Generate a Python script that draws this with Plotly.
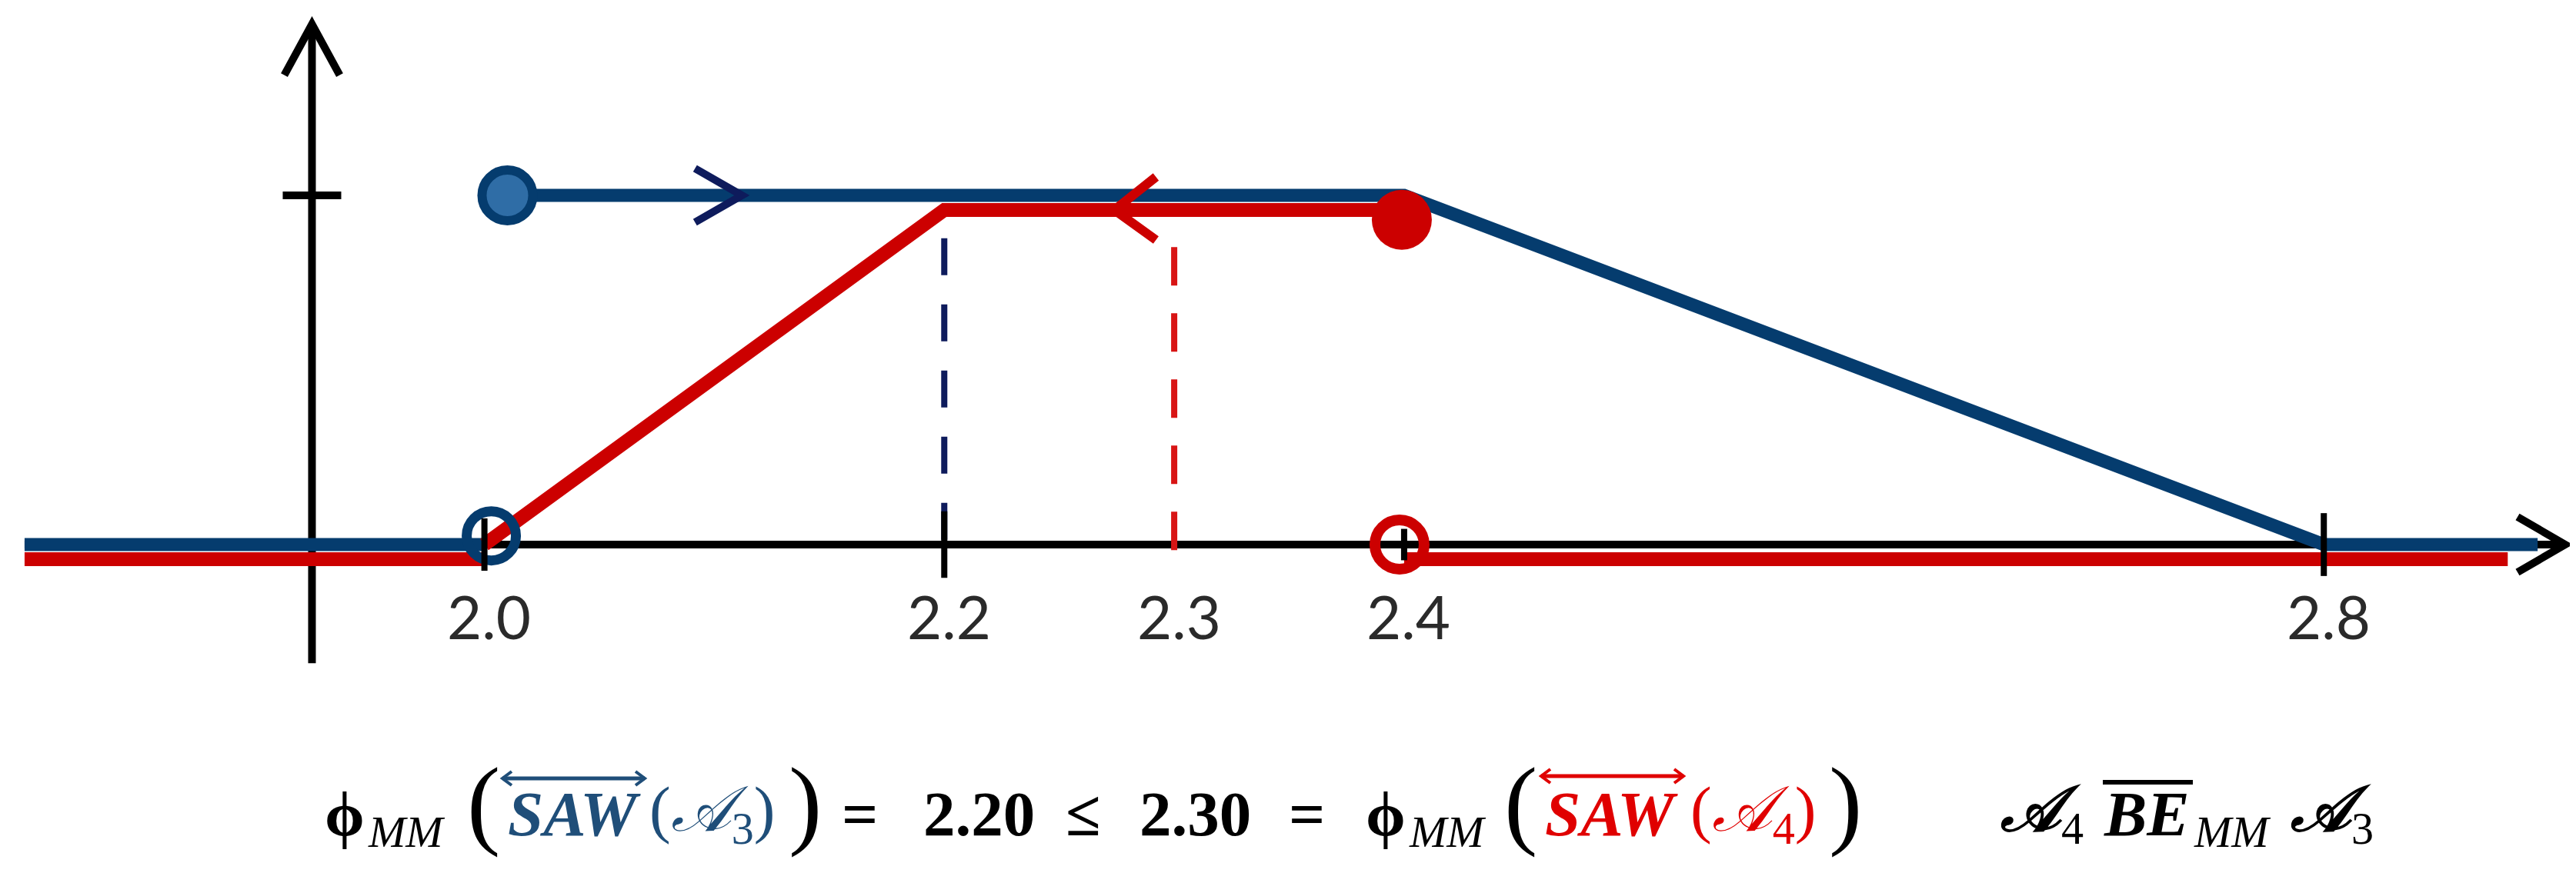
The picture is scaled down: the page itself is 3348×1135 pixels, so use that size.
import plotly.graph_objects as go

# ---------------- data ----------------
tick_values = [2.0, 2.2, 2.3, 2.4, 2.8]
tick_labels = ["2.0", "2.2", "2.3", "2.4", "2.8"]
axis_ticks = [2.0, 2.2, 2.4, 2.8]
axis_tick_half = [0.075, 0.095, 0.045, 0.09]
y_tick_values = [1.0]

x_axis_from, x_axis_to = 1.80, 2.905
y_axis_at = 1.925
y_axis_from, y_axis_to = -0.34, 1.49

# blue membership function (SAW of A3)
blue_left_x = [1.80, 2.0]
blue_left_y = [0, 0]
blue_main_x = [2.0, 2.4, 2.8, 2.893]
blue_main_y = [1, 1, 0, 0]
# red membership function (SAW of A4)
red_left_x = [1.80, 2.0]
red_left_y = [0, 0]
red_mid_x = [2.0, 2.2, 2.4]
red_mid_y = [0, 1, 1]
red_right_x = [2.4, 2.88]
red_right_y = [0, 0]

blue_closed_x, blue_closed_y = [2.01], [1.0]
blue_open_x, blue_open_y = [2.003], [0.025]
red_closed_x, red_closed_y = [2.399], [0.93]
red_open_x, red_open_y = [2.398], [0.0]

blue_cut_x, blue_cut_y = [2.2, 2.2], [0.877, 0.0]
red_cut_x, red_cut_y = [2.3, 2.3], [0.852, -0.026]

blue_arrow_x = 2.112
red_arrow_x = 2.274

phi_blue = 2.20
phi_red = 2.30

# ---------------- layout constants ----------------
W, H = 3348, 1135
PX_PER_X = 2988.3
X_AT_0 = 2.0 - 621.6 / PX_PER_X
PY_PER_Y = 454.0
Y_ZERO_PY = 700.0
X_RANGE = [X_AT_0, X_AT_0 + W / PX_PER_X]
Y_RANGE = [-(H - Y_ZERO_PY) / PY_PER_Y, Y_ZERO_PY / PY_PER_Y]

def dx(px):
    return px / PX_PER_X

def dy(px):
    return px / PY_PER_Y

BLUE = "#053C6E"
BLUE_FILL = "#2F6DA6"
NAVY = "#0E1B5C"
RED = "#CC0000"
BLACK = "#000000"

RED_OFF = -dy(19)

fig = go.Figure()

def add_line(xs, ys, color, width, dash=None):
    fig.add_trace(go.Scatter(x=xs, y=ys, mode="lines",
                             line=dict(color=color, width=width, dash=dash),
                             hoverinfo="skip", showlegend=False))

# dashed cut lines
add_line(blue_cut_x, blue_cut_y, NAVY, 8, "48px,38px")
add_line(red_cut_x, red_cut_y, "#D81515", 8, "50px,36px")

# blue function
add_line(blue_left_x, blue_left_y, BLUE, 17)
add_line(blue_main_x, blue_main_y, BLUE, 17)
# red function
add_line(red_left_x, [v + RED_OFF for v in red_left_y], RED, 18)
add_line(red_mid_x, [v + (RED_OFF if i > 0 else 0) for i, v in enumerate(red_mid_y)], RED, 18)
add_line(red_right_x, [v + RED_OFF for v in red_right_y], RED, 18)

# end-point markers
fig.add_trace(go.Scatter(x=blue_open_x, y=blue_open_y, mode="markers",
                         marker=dict(symbol="circle-open", size=64, color=BLUE,
                                     line=dict(width=13, color=BLUE)),
                         hoverinfo="skip", showlegend=False))
fig.add_trace(go.Scatter(x=blue_closed_x, y=blue_closed_y, mode="markers",
                         marker=dict(symbol="circle", size=66, color=BLUE_FILL,
                                     line=dict(width=12, color=BLUE)),
                         hoverinfo="skip", showlegend=False))
fig.add_trace(go.Scatter(x=red_closed_x, y=red_closed_y, mode="markers",
                         marker=dict(symbol="circle", size=78, color=RED,
                                     line=dict(width=0)),
                         hoverinfo="skip", showlegend=False))
fig.add_trace(go.Scatter(x=red_open_x, y=red_open_y, mode="markers",
                         marker=dict(symbol="circle-open", size=64, color=RED,
                                     line=dict(width=14, color=RED)),
                         hoverinfo="skip", showlegend=False))

shapes = []
# axes
shapes.append(dict(type="line", xref="x", yref="y", layer="below",
                   x0=x_axis_from, x1=x_axis_to, y0=0, y1=0,
                   line=dict(color=BLACK, width=10)))
shapes.append(dict(type="line", xref="x", yref="y", layer="below",
                   x0=y_axis_at, x1=y_axis_at, y0=y_axis_from, y1=y_axis_to,
                   line=dict(color=BLACK, width=10)))

def chevron(tx, ty, ax1, ay1, ax2, ay2, color, width):
    shapes.append(dict(type="path", xref="x", yref="y", layer="above",
                       path=f"M {ax1},{ay1} L {tx},{ty} L {ax2},{ay2}",
                       line=dict(color=color, width=width)))

# axis arrow heads
chevron(y_axis_at, y_axis_to, y_axis_at - dx(36), y_axis_to - dy(66),
        y_axis_at + dx(36), y_axis_to - dy(66), BLACK, 10)
chevron(x_axis_to, 0, x_axis_to - dx(62), dy(36), x_axis_to - dx(62), -dy(36), BLACK, 10)

# direction arrows on the lines
chevron(blue_arrow_x, 1, blue_arrow_x - dx(61), 1 + dy(35),
        blue_arrow_x - dx(61), 1 - dy(35), NAVY, 10)
chevron(red_arrow_x, 1 + RED_OFF, red_arrow_x + dx(54), 1 + RED_OFF + dy(43),
        red_arrow_x + dx(54), 1 + RED_OFF - dy(39), RED, 12)

# ticks
for t, h in zip(axis_ticks, axis_tick_half):
    shapes.append(dict(type="line", xref="x", yref="y", layer="above",
                       x0=t, x1=t, y0=-h, y1=h, line=dict(color=BLACK, width=8)))
for t in y_tick_values:
    shapes.append(dict(type="line", xref="x", yref="y", layer="above",
                       x0=y_axis_at - dx(38), x1=y_axis_at + dx(38), y0=t, y1=t,
                       line=dict(color=BLACK, width=10)))

annotations = []
for v, lab in zip(tick_values, tick_labels):
    annotations.append(dict(x=v, y=-dy(93), xref="x", yref="y", text=lab,
                            showarrow=False, xanchor="center", yanchor="middle",
                            xshift=6,
                            font=dict(family="Lato", size=78, color="#2A2A2A")))

# ---------------- formula ----------------
SERIF = "Liberation Serif"

def px_txt(cx, cy, text, size, color=BLACK):
    annotations.append(dict(x=cx / W, y=1 - cy / H, xref="paper", yref="paper",
                            text=text, showarrow=False, xanchor="center",
                            yanchor="middle", borderpad=0,
                            font=dict(family=SERIF, size=size, color=color)))

def overline(x0, x1, y, color, width, arrows):
    shapes.append(dict(type="line", xref="paper", yref="paper", layer="above",
                       x0=x0 / W, x1=x1 / W, y0=1 - y / H, y1=1 - y / H,
                       line=dict(color=color, width=width)))
    if arrows:
        for xe, s in ((x0, 1), (x1, -1)):
            shapes.append(dict(type="path", xref="paper", yref="paper", layer="above",
                               path=(f"M {(xe + s * 12) / W},{1 - (y - 9) / H} "
                                     f"L {xe / W},{1 - y / H} "
                                     f"L {(xe + s * 12) / W},{1 - (y + 9) / H}"),
                               line=dict(color=color, width=4)))

S = 83
CY = 1050
SUBY = 1073
SAW_BLUE = "#1F4E79"
SAW_RED = "#E00000"
A = "\U0001D49C"

px_txt(440, CY, "<b>\u03d5</b>", S)
px_txt(520, SUBY, "<i>MM</i>", 58)
px_txt(620, 1035, "(", 130)
px_txt(738, CY, "<b><i>SAW</i></b>", S, SAW_BLUE)
overline(645, 830, 1004, SAW_BLUE, 5, True)
px_txt(918, CY, f"(<i>{A}</i><sub>3</sub>)", S, SAW_BLUE)
px_txt(1038, 1035, ")", 130)
px_txt(1109, CY, "<b>=</b>", S)
px_txt(1264, CY, f"<b>{phi_blue:.2f}</b>", S)
px_txt(1400, CY, "<b>\u2264</b>", S)
px_txt(1545, CY, f"<b>{phi_red:.2f}</b>", S)
px_txt(1690, CY, "<b>=</b>", S)
px_txt(1793, CY, "<b>\u03d5</b>", S)
px_txt(1873, SUBY, "<i>MM</i>", 58)
px_txt(1968, 1035, "(", 130)
px_txt(2086, CY, "<b><i>SAW</i></b>", S, SAW_RED)
overline(1995, 2180, 1001, SAW_RED, 5, True)
px_txt(2270, CY, f"(<i>{A}</i><sub>4</sub>)", S, SAW_RED)
px_txt(2390, 1035, ")", 130)
px_txt(2645, CY, f"<b><i>{A}</i></b><sub>4</sub>", S)
px_txt(2782, CY, "<b><i>BE</i></b>", S)
overline(2725, 2842, 1009, BLACK, 6, False)
px_txt(2893, SUBY, "<i>MM</i>", 58)
px_txt(3022, CY, f"<b><i>{A}</i></b><sub>3</sub>", S)

fig.update_layout(
    width=W, height=H,
    margin=dict(l=0, r=0, t=0, b=0),
    paper_bgcolor="white", plot_bgcolor="white",
    xaxis=dict(range=X_RANGE, visible=False, fixedrange=True),
    yaxis=dict(range=Y_RANGE, visible=False, fixedrange=True),
    shapes=shapes, annotations=annotations, showlegend=False,
)

fig.write_html("out.html")
